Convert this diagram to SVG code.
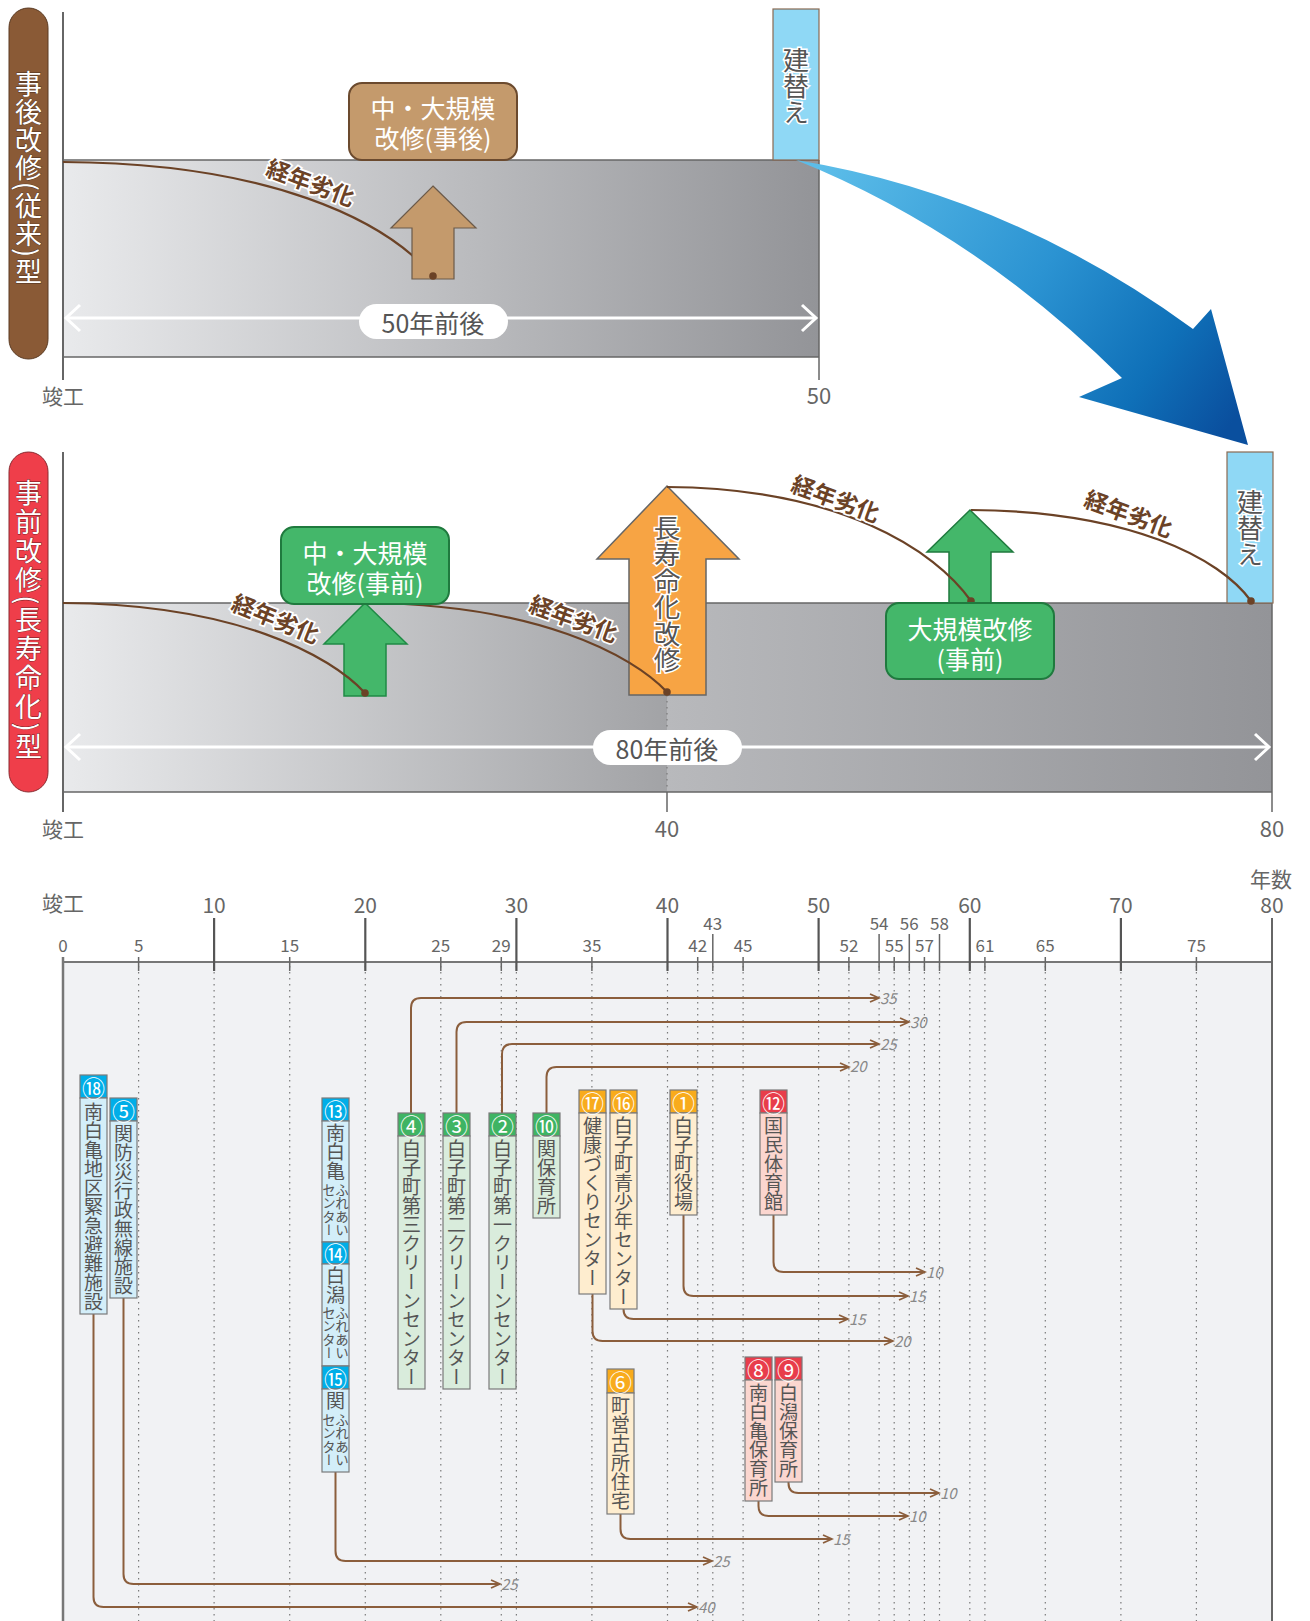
<svg xmlns="http://www.w3.org/2000/svg" width="1310" height="1621" viewBox="0 0 1310 1621">
<defs>
<style>
text{font-family:"Noto Sans CJK JP","Noto Sans",sans-serif;}
.v{writing-mode:vertical-rl;}
.ax{fill:#666;}
.axl{stroke:#666;stroke-width:2;fill:none;}
.dot{stroke:#7a7a7a;stroke-width:1.2;stroke-dasharray:1.5 4.5;fill:none;}
.tick{stroke:#666;stroke-width:1.5;}
.mtick{stroke:#555;stroke-width:2.2;}
.deg{fill:#6b4226;stroke:#fff;stroke-width:3.5;paint-order:stroke;font-size:23px;font-weight:bold;}
.curve{stroke:#6b4226;stroke-width:2.2;fill:none;}
.wa{stroke:#fff;stroke-width:3;fill:none;}
.bt{fill:#fff;font-size:25px;}
.dk{fill:#555;stroke:#fff;stroke-width:3;paint-order:stroke;}
.con{stroke:#8b5e3c;stroke-width:2;fill:none;marker-end:url(#ah);}
.cl{fill:#888;font-size:15px;font-style:italic;}
.nb{stroke:#7a7a7a;stroke-width:1.2;}
.hn{fill:#fff;font-size:23px;text-anchor:middle;dominant-baseline:central;}
.nt{fill:#555;font-size:19px;}
.st{fill:#555;font-size:13.5px;}
.blueH{fill:#00aee8;}.blueB{fill:#d3eef9;}
.grnH{fill:#3fb463;}.grnB{fill:#d9ecdc;}
.orH{fill:#f8ab1c;}.orB{fill:#feedcf;}
.redH{fill:#e83d4b;}.redB{fill:#fbd6cf;}
</style>
<linearGradient id="gTop" gradientUnits="userSpaceOnUse" x1="63" y1="0" x2="819" y2="0">
<stop offset="0" stop-color="#e9eaec"/><stop offset="0.55" stop-color="#b9babd"/><stop offset="1" stop-color="#939498"/>
</linearGradient>
<linearGradient id="gMid1" gradientUnits="userSpaceOnUse" x1="63" y1="0" x2="667" y2="0">
<stop offset="0" stop-color="#e9eaec"/><stop offset="1" stop-color="#a2a3a6"/>
</linearGradient>
<linearGradient id="gMid2" gradientUnits="userSpaceOnUse" x1="667" y1="0" x2="1272" y2="0">
<stop offset="0" stop-color="#b8b9bc"/><stop offset="1" stop-color="#939498"/>
</linearGradient>
<linearGradient id="gBlue" gradientUnits="userSpaceOnUse" x1="820" y1="170" x2="1220" y2="440">
<stop offset="0" stop-color="#5cbde9"/><stop offset="0.5" stop-color="#2b93d2"/><stop offset="0.8" stop-color="#0f70b8"/><stop offset="1" stop-color="#0a4f9e"/>
</linearGradient>
<marker id="ah" markerWidth="12" markerHeight="10" refX="10" refY="5" orient="auto" markerUnits="userSpaceOnUse">
<path d="M1,1 L10,5 L1,9" fill="none" stroke="#8b5e3c" stroke-width="1.8"/>
</marker>
</defs>

<rect width="1310" height="1621" fill="#fff"/>

<!-- ===== Top section: 事後改修(従来)型 ===== -->
<g id="pill-top">
<rect x="9" y="8" width="39" height="351" rx="19.5" fill="#8a5a36" stroke="#5a3a22" stroke-width="1"/>
<text class="v" x="28.5" y="178" text-anchor="middle" font-size="27" letter-spacing="1" fill="#fff" stroke="#4a3020" stroke-width="0.8" paint-order="stroke">事後改修(従来)型</text>
</g>
<g id="band-top">
<rect x="63" y="160" width="756" height="197" fill="url(#gTop)"/>
<line x1="63" y1="160" x2="819" y2="160" stroke="#666" stroke-width="1.5"/>
<line x1="63" y1="357" x2="819" y2="357" stroke="#666" stroke-width="1.5"/>
<line x1="819" y1="160" x2="819" y2="380" stroke="#666" stroke-width="1.5"/>
<line x1="63" y1="12" x2="63" y2="380" class="axl"/>
<text x="63" y="404" text-anchor="middle" font-size="21" class="ax">竣工</text>
<text x="819" y="404" text-anchor="middle" font-size="22" class="ax">50</text>
</g>
<g id="span-top">
<line x1="66" y1="318" x2="816" y2="318" class="wa"/>
<polyline points="80,305 66,318 80,331" class="wa"/>
<polyline points="802,305 816,318 802,331" class="wa"/>
<rect x="359" y="304" width="149" height="35" rx="17.5" fill="#fff"/>
<text x="433" y="322" text-anchor="middle" dominant-baseline="central" font-size="25" fill="#555">50年前後</text>
</g>
<g id="rebuild-top">
<rect x="773" y="9" width="46" height="151" fill="#8fd8f5" stroke="#8a6a52" stroke-width="1.2"/>
<text class="v dk" x="796" y="86" text-anchor="middle" font-size="26">建替え</text>
</g>
<g id="deg-top">
<path class="curve" d="M63,162 C270,163 385,220 433,276"/>
<text class="deg" x="0" y="-6" text-anchor="middle" dominant-baseline="central" transform="translate(309,187) rotate(20)">経年劣化</text>
</g>
<g id="arrow-brown">
<polygon points="433,186 476,228 454,228 454,279 412,279 412,228 391,228" fill="#c49a6c" stroke="#6b5a4a" stroke-width="1.2"/>
<circle cx="433" cy="276" r="3.8" fill="#6b4226"/>
</g>
<g id="box-brown">
<rect x="349" y="83" width="168" height="77" rx="13" fill="#c49a6c" stroke="#6b4a2e" stroke-width="2"/>
<text class="bt" x="433" y="107" text-anchor="middle" dominant-baseline="central">中・大規模</text>
<text class="bt" x="433" y="137" text-anchor="middle" dominant-baseline="central">改修(事後)</text>
</g>

<!-- ===== Blue curved arrow ===== -->
<g id="blue-arrow">
<path d="M796,160 Q1010,195 1193,329 L1211,309 L1248,445 L1079,397 L1122,378 Q975,232 796,160 Z" fill="url(#gBlue)"/>
</g>

<!-- ===== Middle section: 事前改修(長寿命化)型 ===== -->
<g id="pill-mid">
<rect x="9" y="452" width="39" height="340" rx="19.5" fill="#ef3e4a" stroke="#8a2a30" stroke-width="1"/>
<text class="v" x="28.5" y="621" text-anchor="middle" font-size="27" letter-spacing="2" fill="#fff" stroke="#6a1a20" stroke-width="0.8" paint-order="stroke">事前改修(長寿命化)型</text>
</g>
<g id="band-mid">
<rect x="63" y="603" width="604" height="189" fill="url(#gMid1)"/>
<rect x="667" y="603" width="605" height="189" fill="url(#gMid2)"/>
<line x1="63" y1="603" x2="1272" y2="603" stroke="#666" stroke-width="1.5"/>
<line x1="63" y1="792" x2="1272" y2="792" stroke="#666" stroke-width="1.5"/>
<line x1="1272" y1="603" x2="1272" y2="812" stroke="#666" stroke-width="1.5"/>
<line x1="63" y1="452" x2="63" y2="812" class="axl"/>
<line x1="667" y1="695" x2="667" y2="792" class="dot"/>
<line x1="667" y1="792" x2="667" y2="812" stroke="#666" stroke-width="1.5"/>
<text x="63" y="837" text-anchor="middle" font-size="21" class="ax">竣工</text>
<text x="667" y="837" text-anchor="middle" font-size="22" class="ax">40</text>
<text x="1272" y="837" text-anchor="middle" font-size="22" class="ax">80</text>
</g>
<g id="span-mid">
<line x1="66" y1="747" x2="1269" y2="747" class="wa"/>
<polyline points="80,734 66,747 80,760" class="wa"/>
<polyline points="1255,734 1269,747 1255,760" class="wa"/>
<rect x="593" y="730" width="149" height="35" rx="17.5" fill="#fff"/>
<text x="667" y="748" text-anchor="middle" dominant-baseline="central" font-size="25" fill="#555">80年前後</text>
</g>
<g id="rebuild-mid">
<rect x="1227" y="452" width="46" height="151" fill="#8fd8f5" stroke="#8a6a52" stroke-width="1.2"/>
<text class="v dk" x="1250" y="528" text-anchor="middle" font-size="26">建替え</text>
</g>
<g id="arrow-green1">
<polygon points="365,603 407,644 386,644 386,696 344,696 344,644 324,644" fill="#44b76a" stroke="#1f8a45" stroke-width="1.5"/>
</g>
<g id="arrow-orange">
<polygon points="667,486 739,559 706,559 706,695 629,695 629,559 597,559" fill="#f7a444" stroke="#666" stroke-width="1.5"/>
<text class="v dk" x="667" y="594" text-anchor="middle" font-size="26.5">長寿命化改修</text>
</g>
<g id="arrow-green2">
<polygon points="970,510 1013,552 991,552 991,603 949,603 949,552 927,552" fill="#44b76a" stroke="#1f7a3e" stroke-width="1.5"/>
</g>
<g id="deg-mid">
<path class="curve" d="M63,603 C235,604 330,655 365,693"/>
<path class="curve" d="M365,603 C537,604 632,655 667,692"/>
<path class="curve" d="M667,487 C840,488 935,550 971,601"/>
<path class="curve" d="M971,510 C1130,511 1220,558 1251,601"/>
<circle cx="365" cy="693" r="3.8" fill="#6b4226"/>
<circle cx="667" cy="692" r="3.8" fill="#6b4226"/>
<circle cx="971" cy="601" r="3.8" fill="#6b4226"/>
<circle cx="1251" cy="601" r="3.8" fill="#6b4226"/>
<text class="deg" y="-6" text-anchor="middle" dominant-baseline="central" transform="translate(274,623) rotate(22)">経年劣化</text>
<text class="deg" y="-6" text-anchor="middle" dominant-baseline="central" transform="translate(572,623) rotate(20)">経年劣化</text>
<text class="deg" y="-6" text-anchor="middle" dominant-baseline="central" transform="translate(834,503) rotate(20)">経年劣化</text>
<text class="deg" y="-6" text-anchor="middle" dominant-baseline="central" transform="translate(1127,518) rotate(20)">経年劣化</text>
</g>
<g id="box-green1">
<rect x="281" y="527" width="168" height="77" rx="13" fill="#44b76a" stroke="#1f7a3e" stroke-width="2"/>
<text class="bt" x="365" y="552" text-anchor="middle" dominant-baseline="central">中・大規模</text>
<text class="bt" x="365" y="582" text-anchor="middle" dominant-baseline="central">改修(事前)</text>
</g>
<g id="box-green2">
<rect x="886" y="603" width="168" height="76" rx="13" fill="#44b76a" stroke="#1f7a3e" stroke-width="2"/>
<text class="bt" x="970" y="628" text-anchor="middle" dominant-baseline="central">大規模改修</text>
<text class="bt" x="970" y="658" text-anchor="middle" dominant-baseline="central">(事前)</text>
</g>

<!-- ===== Bottom chart ===== -->
<g id="chart-axis">
<rect x="63" y="962" width="1209" height="659" fill="#f1f2f4"/>
<g class="dot">
<line x1="138.6" y1="966" x2="138.6" y2="1621"/>
<line x1="214.1" y1="966" x2="214.1" y2="1621"/>
<line x1="289.7" y1="966" x2="289.7" y2="1621"/>
<line x1="365.3" y1="966" x2="365.3" y2="1621"/>
<line x1="440.8" y1="966" x2="440.8" y2="1621"/>
<line x1="501.3" y1="966" x2="501.3" y2="1621"/>
<line x1="516.4" y1="966" x2="516.4" y2="1621"/>
<line x1="591.9" y1="966" x2="591.9" y2="1621"/>
<line x1="667.5" y1="966" x2="667.5" y2="1621"/>
<line x1="697.7" y1="966" x2="697.7" y2="1621"/>
<line x1="712.8" y1="966" x2="712.8" y2="1621"/>
<line x1="743.1" y1="966" x2="743.1" y2="1621"/>
<line x1="818.6" y1="966" x2="818.6" y2="1621"/>
<line x1="848.9" y1="966" x2="848.9" y2="1621"/>
<line x1="879.1" y1="966" x2="879.1" y2="1621"/>
<line x1="894.2" y1="966" x2="894.2" y2="1621"/>
<line x1="909.3" y1="966" x2="909.3" y2="1621"/>
<line x1="924.4" y1="966" x2="924.4" y2="1621"/>
<line x1="939.5" y1="966" x2="939.5" y2="1621"/>
<line x1="969.8" y1="966" x2="969.8" y2="1621"/>
<line x1="984.9" y1="966" x2="984.9" y2="1621"/>
<line x1="1045.3" y1="966" x2="1045.3" y2="1621"/>
<line x1="1120.9" y1="966" x2="1120.9" y2="1621"/>
<line x1="1196.4" y1="966" x2="1196.4" y2="1621"/>
</g>
<line x1="63" y1="962" x2="1272" y2="962" stroke="#777" stroke-width="2"/>
<line x1="63" y1="957" x2="63" y2="1621" stroke="#777" stroke-width="2.5"/>
<line x1="1272" y1="918" x2="1272" y2="1621" stroke="#666" stroke-width="2"/>
<g class="mtick">
<line x1="214.1" y1="918" x2="214.1" y2="971"/>
<line x1="365.3" y1="918" x2="365.3" y2="971"/>
<line x1="516.4" y1="918" x2="516.4" y2="971"/>
<line x1="667.5" y1="918" x2="667.5" y2="971"/>
<line x1="818.6" y1="918" x2="818.6" y2="971"/>
<line x1="969.8" y1="918" x2="969.8" y2="971"/>
<line x1="1120.9" y1="918" x2="1120.9" y2="971"/>
</g>
<g class="tick">
<line x1="138.6" y1="957" x2="138.6" y2="971"/>
<line x1="289.7" y1="957" x2="289.7" y2="971"/>
<line x1="440.8" y1="957" x2="440.8" y2="971"/>
<line x1="501.3" y1="957" x2="501.3" y2="971"/>
<line x1="591.9" y1="957" x2="591.9" y2="971"/>
<line x1="697.7" y1="957" x2="697.7" y2="971"/>
<line x1="743.1" y1="957" x2="743.1" y2="971"/>
<line x1="848.9" y1="957" x2="848.9" y2="971"/>
<line x1="894.2" y1="957" x2="894.2" y2="971"/>
<line x1="924.4" y1="957" x2="924.4" y2="971"/>
<line x1="984.9" y1="957" x2="984.9" y2="971"/>
<line x1="1045.3" y1="957" x2="1045.3" y2="971"/>
<line x1="1196.4" y1="957" x2="1196.4" y2="971"/>
<line x1="712.8" y1="934" x2="712.8" y2="971"/>
<line x1="879.1" y1="934" x2="879.1" y2="971"/>
<line x1="909.3" y1="934" x2="909.3" y2="971"/>
<line x1="939.5" y1="934" x2="939.5" y2="971"/>
</g>
<g class="ax" text-anchor="middle" font-size="21">
<text x="63" y="911">竣工</text>
<text x="1271" y="887">年数</text>
<text x="214.1" y="913">10</text>
<text x="365.3" y="913">20</text>
<text x="516.4" y="913">30</text>
<text x="667.5" y="913">40</text>
<text x="818.6" y="913">50</text>
<text x="969.8" y="913">60</text>
<text x="1120.9" y="913">70</text>
<text x="1272" y="913">80</text>
</g>
<g class="ax" text-anchor="middle" font-size="17">
<text x="63" y="952">0</text>
<text x="138.6" y="952">5</text>
<text x="289.7" y="952">15</text>
<text x="440.8" y="952">25</text>
<text x="501.3" y="952">29</text>
<text x="591.9" y="952">35</text>
<text x="697.7" y="952">42</text>
<text x="743.1" y="952">45</text>
<text x="848.9" y="952">52</text>
<text x="894.2" y="952">55</text>
<text x="924.4" y="952">57</text>
<text x="984.9" y="952">61</text>
<text x="1045.3" y="952">65</text>
<text x="1196.4" y="952">75</text>
<text x="712.8" y="930">43</text>
<text x="879.1" y="930">54</text>
<text x="909.3" y="930">56</text>
<text x="939.5" y="930">58</text>
</g>
</g>

<g id="connectors">
<path class="con" d="M411,1113 V1008 Q411,998 421,998 H879"/>
<path class="con" d="M456.5,1113 V1032 Q456.5,1022 466.5,1022 H909"/>
<path class="con" d="M502,1113 V1054 Q502,1044 512,1044 H879"/>
<path class="con" d="M546.5,1113 V1077 Q546.5,1067 556.5,1067 H849"/>
<path class="con" d="M773.5,1215 V1262 Q773.5,1272 783.5,1272 H925"/>
<path class="con" d="M683.5,1215 V1286 Q683.5,1296 693.5,1296 H908"/>
<path class="con" d="M623.5,1309 Q623.5,1319 633.5,1319 H848"/>
<path class="con" d="M592.5,1294 V1331 Q592.5,1341 602.5,1341 H893"/>
<path class="con" d="M788.5,1482 V1483 Q788.5,1493 798.5,1493 H939"/>
<path class="con" d="M758.5,1501 V1506 Q758.5,1516 768.5,1516 H908"/>
<path class="con" d="M620.5,1514 V1529 Q620.5,1539 630.5,1539 H832"/>
<path class="con" d="M335.5,1472 V1551 Q335.5,1561 345.5,1561 H712"/>
<path class="con" d="M123.5,1298 V1574 Q123.5,1584 133.5,1584 H500"/>
<path class="con" d="M93.5,1314 V1597 Q93.5,1607 103.5,1607 H697"/>
<text class="cl" x="880" y="1004">35</text>
<text class="cl" x="910" y="1028">30</text>
<text class="cl" x="880" y="1050">25</text>
<text class="cl" x="850" y="1072">20</text>
<text class="cl" x="926" y="1278">10</text>
<text class="cl" x="909" y="1302">15</text>
<text class="cl" x="849" y="1325">15</text>
<text class="cl" x="894" y="1347">20</text>
<text class="cl" x="940" y="1499">10</text>
<text class="cl" x="909" y="1522">10</text>
<text class="cl" x="833" y="1545">15</text>
<text class="cl" x="713" y="1567">25</text>
<text class="cl" x="501" y="1590">25</text>
<text class="cl" x="698" y="1613">40</text>
</g>

<g id="n18">
<rect class="nb blueH" x="80" y="1075" width="27" height="23"/>
<rect class="nb blueB" x="80" y="1098" width="27" height="216"/>
<text class="hn" x="93.5" y="1086.5">⑱</text>
<text class="v nt" x="93.5" y="1102">南白亀地区緊急避難施設</text>
</g>
<g id="n5">
<rect class="nb blueH" x="110" y="1098" width="27" height="23"/>
<rect class="nb blueB" x="110" y="1121" width="27" height="177"/>
<text class="hn" x="123.5" y="1109.5">⑤</text>
<text class="v nt" x="123.5" y="1124">関防災行政無線施設</text>
</g>
<g id="n13">
<rect class="nb blueH" x="322" y="1098" width="27" height="23"/>
<rect class="nb blueB" x="322" y="1121" width="27" height="121"/>
<text class="hn" x="335.5" y="1109.5">⑬</text>
<text class="v nt" x="335.5" y="1123">南白亀</text>
<text class="v st" x="342" y="1183">ふれあい</text>
<text class="v st" x="329" y="1183">センター</text>
</g>
<g id="n14">
<rect class="nb blueH" x="322" y="1242" width="27" height="22"/>
<rect class="nb blueB" x="322" y="1264" width="27" height="102"/>
<text class="hn" x="335.5" y="1253">⑭</text>
<text class="v nt" x="335.5" y="1266">白潟</text>
<text class="v st" x="342" y="1306">ふれあい</text>
<text class="v st" x="329" y="1306">センター</text>
</g>
<g id="n15">
<rect class="nb blueH" x="322" y="1366" width="27" height="23"/>
<rect class="nb blueB" x="322" y="1389" width="27" height="83"/>
<text class="hn" x="335.5" y="1377.5">⑮</text>
<text class="v nt" x="335.5" y="1391">関</text>
<text class="v st" x="342" y="1413">ふれあい</text>
<text class="v st" x="329" y="1413">センター</text>
</g>
<g id="n4">
<rect class="nb grnH" x="398" y="1113" width="27" height="23"/>
<rect class="nb grnB" x="398" y="1136" width="27" height="253"/>
<text class="hn" x="411.5" y="1124.5">④</text>
<text class="v nt" x="411.5" y="1139">白子町第三クリーンセンター</text>
</g>
<g id="n3">
<rect class="nb grnH" x="443" y="1113" width="27" height="23"/>
<rect class="nb grnB" x="443" y="1136" width="27" height="253"/>
<text class="hn" x="456.5" y="1124.5">③</text>
<text class="v nt" x="456.5" y="1139">白子町第二クリーンセンター</text>
</g>
<g id="n2">
<rect class="nb grnH" x="489" y="1113" width="27" height="23"/>
<rect class="nb grnB" x="489" y="1136" width="27" height="253"/>
<text class="hn" x="502.5" y="1124.5">②</text>
<text class="v nt" x="502.5" y="1139">白子町第一クリーンセンター</text>
</g>
<g id="n10">
<rect class="nb grnH" x="533" y="1113" width="27" height="23"/>
<rect class="nb grnB" x="533" y="1136" width="27" height="82"/>
<text class="hn" x="546.5" y="1124.5">⑩</text>
<text class="v nt" x="546.5" y="1139">関保育所</text>
</g>
<g id="n17">
<rect class="nb orH" x="579" y="1090" width="27" height="23"/>
<rect class="nb orB" x="579" y="1113" width="27" height="181"/>
<text class="hn" x="592.5" y="1101.5">⑰</text>
<text class="v nt" x="592.5" y="1116">健康づくりセンター</text>
</g>
<g id="n16">
<rect class="nb orH" x="610" y="1090" width="27" height="23"/>
<rect class="nb orB" x="610" y="1113" width="27" height="196"/>
<text class="hn" x="623.5" y="1101.5">⑯</text>
<text class="v nt" x="623.5" y="1116">白子町青少年センター</text>
</g>
<g id="n1">
<rect class="nb orH" x="670" y="1090" width="27" height="23"/>
<rect class="nb orB" x="670" y="1113" width="27" height="102"/>
<text class="hn" x="683.5" y="1101.5">①</text>
<text class="v nt" x="683.5" y="1116">白子町役場</text>
</g>
<g id="n12">
<rect class="nb redH" x="760" y="1090" width="27" height="23"/>
<rect class="nb redB" x="760" y="1113" width="27" height="102"/>
<text class="hn" x="773.5" y="1101.5">⑫</text>
<text class="v nt" x="773.5" y="1116">国民体育館</text>
</g>
<g id="n6">
<rect class="nb orH" x="607" y="1369" width="27" height="24"/>
<rect class="nb orB" x="607" y="1393" width="27" height="121"/>
<text class="hn" x="620.5" y="1381">⑥</text>
<text class="v nt" x="620.5" y="1396">町営古所住宅</text>
</g>
<g id="n8">
<rect class="nb redH" x="745" y="1357" width="27" height="23"/>
<rect class="nb redB" x="745" y="1380" width="27" height="121"/>
<text class="hn" x="758.5" y="1368.5">⑧</text>
<text class="v nt" x="758.5" y="1383">南白亀保育所</text>
</g>
<g id="n9">
<rect class="nb redH" x="775" y="1357" width="27" height="23"/>
<rect class="nb redB" x="775" y="1380" width="27" height="102"/>
<text class="hn" x="788.5" y="1368.5">⑨</text>
<text class="v nt" x="788.5" y="1383">白潟保育所</text>
</g>
</svg>
